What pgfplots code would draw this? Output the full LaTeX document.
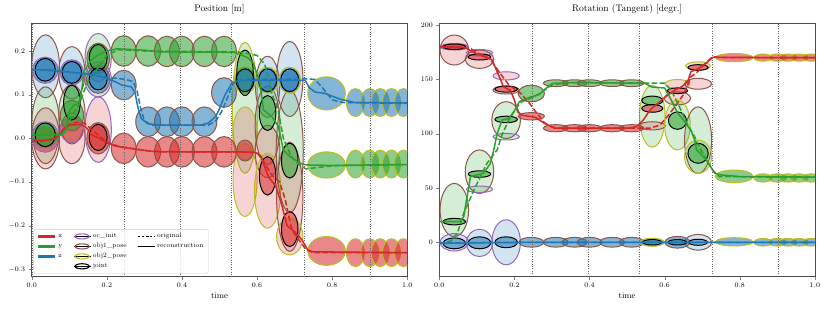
\documentclass[border=0pt]{standalone}
\usepackage{pgfplots}
\usepackage{pgfplotstable}
\pgfplotsset{compat=1.18}
\definecolor{fc1}{HTML}{D62728}
\definecolor{fc2}{HTML}{2CA02C}
\definecolor{fc3}{HTML}{1F77B4}
\definecolor{ec1}{HTML}{9467BD}
\definecolor{ec2}{HTML}{8C564B}
\definecolor{ec3}{HTML}{BCBD22}
\definecolor{ec4}{HTML}{000000}

\pgfdeclareplotmark{ell}{%
  \pgfplotspointaxisdirectionxy{\ellrx}{0}\pgfgetlastxy{\ellRX}{\ellTmp}%
  \pgfplotspointaxisdirectionxy{0}{\ellry}\pgfgetlastxy{\ellTmp}{\ellRY}%
  \pgfmathtruncatemacro\ellci{round(\ellc)}%
  \pgfmathtruncatemacro\ellei{round(\elle)}%
  \edef\ellFC{fc\ellci}\edef\ellEC{ec\ellei}%
  \pgfsetfillcolor{\ellFC}\pgfsetstrokecolor{\ellEC}%
  \pgfsetfillopacity{\ella}\pgfsetstrokeopacity{1}%
  \pgfsetlinewidth{1pt}%
  \pgfpathellipse{\pgfpointorigin}{\pgfqpoint{\ellRX}{0pt}}{\pgfqpoint{0pt}{\ellRY}}%
  \pgfusepath{fill,stroke}%
}

\pgfplotsset{
  ellplot/.style={scatter, only marks, mark=ell, forget plot,
    visualization depends on={\thisrow{rx}\as\ellrx},
    visualization depends on={\thisrow{ry}\as\ellry},
    visualization depends on={\thisrow{c}\as\ellc},
    visualization depends on={\thisrow{e}\as\elle},
    visualization depends on={\thisrow{a}\as\ella},
    scatter/@pre marker code/.code={\pgfscope},
    scatter/@post marker code/.code={\endpgfscope}},
  common/.style={scale only axis, width=375.6pt, height=253.4pt,
    xmin=0, xmax=1, xtick={0,0.2,0.4,0.6,0.8,1},
    xticklabel style={/pgf/number format/.cd, fixed, fixed zerofill, precision=1},
    tick label style={font=\fontsize{7}{8}\selectfont},
    tick align=outside, tick pos=left, major tick length=3pt,
    axis line style={black!70, line width=0.8pt},
    xlabel={time}, xlabel style={font=\fontsize{8.5}{10}\selectfont, yshift=2pt},
    title style={font=\fontsize{9.5}{11}\selectfont},
    clip marker paths=true},
  rec/.style={line width=1.5pt, forget plot},
  org/.style={line width=1.5pt, dash pattern=on 5.5pt off 2.5pt, forget plot},
  vl/.style={black!60, line width=0.8pt, dash pattern=on 0.8pt off 1.6pt, forget plot},
  ellleg/.style={legend image code/.code={%
    \path (0cm,0cm) -- (0.6cm,0cm);
    \draw[#1, line width=1.1pt] (0.3cm,0cm) ellipse [x radius=0.25cm, y radius=0.09cm];}},
}

% left panel ellipses: time, value, x radius, y radius, colour (1 x,2 y,3 z), edge (1 oc_init,2 obj1,3 obj2,4 joint), alpha
\pgfplotstableread{
t v rx ry c e a
0.037 0.165 0.037 0.072 3 2 0.2
0.037 0.03 0.037 0.088 2 2 0.2
0.037 0.0 0.037 0.07 1 2 0.2
0.107 0.15 0.035 0.06 3 2 0.2
0.107 0.055 0.035 0.068 2 2 0.2
0.107 0.0 0.035 0.058 1 2 0.2
0.177 0.185 0.035 0.055 2 1 0.2
0.177 0.135 0.035 0.04 3 1 0.2
0.177 0.02 0.035 0.075 1 1 0.2
0.568 0.07 0.034 0.15 2 3 0.2
0.568 0.011 0.033 0.061 1 3 0.2
0.568 -0.095 0.032 0.084 1 3 0.2
0.628 0.118 0.032 0.07 3 2 0.2
0.628 0.03 0.033 0.09 2 2 0.2
0.628 -0.03 0.033 0.06 1 2 0.2
0.628 -0.12 0.035 0.086 1 3 0.2
0.687 0.136 0.035 0.086 3 2 0.2
0.687 -0.03 0.036 0.14 2 2 0.2
0.687 -0.134 0.035 0.125 1 2 0.2
0.687 -0.225 0.035 0.042 1 3 0.2
0.036 -0.002 0.034 0.03 1 1 0.55
0.036 0.156 0.034 0.03 3 1 0.55
0.036 0.008 0.034 0.03 2 1 0.55
0.107 0.02 0.031 0.03 1 1 0.55
0.107 0.052 0.031 0.035 2 2 0.55
0.107 0.151 0.031 0.029 3 1 0.55
0.177 0.183 0.03 0.035 2 2 0.55
0.177 0.135 0.031 0.032 3 2 0.55
0.177 0.0 0.03 0.036 1 2 0.55
0.245 0.2 0.033 0.035 2 2 0.55
0.31 0.2 0.033 0.035 2 2 0.55
0.36 0.199 0.033 0.035 2 2 0.55
0.40 0.199 0.033 0.035 2 2 0.55
0.46 0.199 0.033 0.035 2 2 0.55
0.512 0.199 0.033 0.035 2 2 0.55
0.245 0.122 0.033 0.034 3 2 0.55
0.31 0.038 0.033 0.034 3 2 0.55
0.36 0.038 0.033 0.034 3 2 0.55
0.40 0.038 0.033 0.034 3 2 0.55
0.46 0.038 0.033 0.034 3 2 0.55
0.512 0.105 0.033 0.034 3 2 0.55
0.245 -0.023 0.033 0.035 1 2 0.55
0.31 -0.031 0.033 0.035 1 2 0.55
0.36 -0.031 0.033 0.035 1 2 0.55
0.40 -0.031 0.033 0.035 1 2 0.55
0.46 -0.031 0.033 0.035 1 2 0.55
0.512 -0.031 0.033 0.035 1 2 0.55
0.568 -0.028 0.022 0.024 1 2 0.55
0.568 0.133 0.029 0.03 3 3 0.55
0.628 0.133 0.029 0.03 3 3 0.55
0.687 0.133 0.029 0.03 3 3 0.55
0.785 0.103 0.05 0.038 3 3 0.55
0.862 0.082 0.024 0.032 3 3 0.55
0.9 0.082 0.024 0.032 3 3 0.55
0.928 0.082 0.024 0.032 3 3 0.55
0.958 0.082 0.024 0.032 3 3 0.55
0.99 0.082 0.024 0.032 3 3 0.55
0.785 -0.061 0.05 0.03 2 3 0.55
0.862 -0.059 0.024 0.032 2 3 0.55
0.9 -0.059 0.024 0.032 2 3 0.55
0.928 -0.059 0.024 0.032 2 3 0.55
0.958 -0.059 0.024 0.032 2 3 0.55
0.99 -0.059 0.024 0.032 2 3 0.55
0.785 -0.258 0.05 0.033 1 3 0.55
0.862 -0.262 0.024 0.032 1 3 0.55
0.9 -0.262 0.024 0.032 1 3 0.55
0.928 -0.262 0.024 0.032 1 3 0.55
0.958 -0.262 0.024 0.032 1 3 0.55
0.99 -0.262 0.024 0.032 1 3 0.55
0.036 0.157 0.027 0.026 3 4 0.55
0.036 0.008 0.027 0.027 2 4 0.55
0.107 0.151 0.026 0.025 3 4 0.55
0.107 0.082 0.022 0.04 2 4 0.55
0.177 0.185 0.024 0.03 2 4 0.55
0.177 0.136 0.024 0.025 3 4 0.55
0.177 0.002 0.024 0.03 1 4 0.55
0.568 0.15 0.022 0.052 2 4 0.55
0.568 0.133 0.024 0.026 3 4 0.55
0.628 0.058 0.022 0.04 2 4 0.55
0.628 -0.086 0.022 0.044 1 4 0.55
0.628 0.133 0.024 0.026 3 4 0.55
0.687 -0.051 0.022 0.04 2 4 0.55
0.687 -0.208 0.022 0.04 1 4 0.55
0.687 0.133 0.024 0.026 3 4 0.55
}\ellL

\pgfplotstableread{
t v rx ry c e a
0.04 177 0.038 13.8 1 2 0.2
0.04 29.7 0.038 24.5 2 2 0.2
0.04 0 0.038 8 3 1 0.2
0.107 168.5 0.038 8.4 1 2 0.2
0.107 174.5 0.035 3 1 1 0.2
0.107 65 0.038 20 2 2 0.2
0.107 48.8 0.035 3 2 1 0.2
0.107 -0.6 0.035 12.6 3 1 0.2
0.178 153.2 0.035 3.8 1 1 0.2
0.178 140.2 0.035 3.7 1 2 0.2
0.178 112.5 0.038 16.9 2 2 0.2
0.178 97.2 0.035 3 2 1 0.2
0.178 0 0.038 20.7 3 1 0.2
0.567 116 0.034 28.4 2 3 0.2
0.567 107.2 0.035 3.8 1 2 0.2
0.634 145.8 0.033 4.1 1 3 0.2
0.634 132.5 0.035 6.1 1 2 0.2
0.634 108 0.034 23 2 3 0.2
0.689 94 0.036 30.7 2 2 0.2
0.689 78.8 0.036 15.3 2 3 0.2
0.689 162.4 0.033 3.8 1 3 0.2
0.689 145.9 0.036 5 1 2 0.2
0.689 0 0.036 7.2 3 2 0.2
0.04 180 0.038 3 1 1 0.55
0.245 137 0.035 7.7 2 2 0.55
0.31 146.5 0.033 3.1 2 2 0.55
0.36 146.5 0.033 3.1 2 2 0.55
0.40 146.5 0.033 3.1 2 2 0.55
0.46 146.5 0.033 3.1 2 2 0.55
0.512 146.5 0.033 3.1 2 2 0.55
0.245 116 0.035 3.4 1 2 0.55
0.31 105 0.033 3.3 1 2 0.55
0.36 105 0.033 3.3 1 2 0.55
0.40 105 0.033 3.3 1 2 0.55
0.46 105 0.033 3.3 1 2 0.55
0.512 105 0.033 3.3 1 2 0.55
0.245 0 0.033 4.5 3 2 0.55
0.31 0 0.033 4.5 3 2 0.55
0.36 0 0.033 4.5 3 2 0.55
0.40 0 0.033 4.5 3 2 0.55
0.46 0 0.033 4.5 3 2 0.55
0.512 0 0.033 4.5 3 2 0.55
0.567 0 0.032 3.7 3 3 0.55
0.634 0 0.033 5.4 3 2 0.55
0.785 170 0.05 3.8 1 3 0.55
0.862 170 0.024 3.3 1 3 0.55
0.9 170 0.024 3.3 1 3 0.55
0.928 170 0.024 3.3 1 3 0.55
0.958 170 0.024 3.3 1 3 0.55
0.99 170 0.024 3.3 1 3 0.55
0.785 60.7 0.05 5.8 2 3 0.55
0.862 59.2 0.024 3.8 2 3 0.55
0.9 59.2 0.024 3.8 2 3 0.55
0.928 59.2 0.024 3.8 2 3 0.55
0.958 59.2 0.024 3.8 2 3 0.55
0.99 59.2 0.024 3.8 2 3 0.55
0.785 0.4 0.05 3.8 3 3 0.55
0.862 0 0.024 3.5 3 3 0.55
0.9 0 0.024 3.5 3 3 0.55
0.928 0 0.024 3.5 3 3 0.55
0.958 0 0.024 3.5 3 3 0.55
0.99 0 0.024 3.5 3 3 0.55
0.04 180 0.03 2.5 1 4 0.55
0.04 19 0.03 3 2 4 0.55
0.04 -1 0.03 5 3 4 0.55
0.107 170.6 0.03 2.8 1 4 0.55
0.107 62.8 0.03 3 2 4 0.55
0.107 -0.5 0.03 5.5 3 4 0.55
0.178 141 0.03 2.8 1 4 0.55
0.178 113.1 0.03 3 2 4 0.55
0.178 0 0.03 5 3 4 0.55
0.567 130.5 0.028 4.1 2 4 0.55
0.567 123.2 0.028 3.5 1 4 0.55
0.567 0 0.025 2.5 3 4 0.55
0.634 139.5 0.027 2.6 1 4 0.55
0.634 112 0.024 8 2 4 0.55
0.634 0 0.025 2.5 3 4 0.55
0.689 81.9 0.027 9.2 2 4 0.55
0.689 160.9 0.027 2.6 1 4 0.55
0.689 0 0.025 2.8 3 4 0.55
}\ellR

\begin{document}
\begin{tikzpicture}
\path[use as bounding box] (0,0) rectangle (830pt,311pt);

\begin{axis}[common, at={(31.7pt,34.3pt)}, anchor=south west,
  title={Position [m]},
  ymin=-0.317, ymax=0.2635,
  ytick={-0.3,-0.2,-0.1,0,0.1,0.2},
  yticklabel style={/pgf/number format/.cd, fixed, fixed zerofill, precision=1},
  legend columns=3, legend cell align=left,
  legend style={at={(0.004,0.013)}, anchor=south west,
    font=\fontsize{6.5}{7}\selectfont, draw=black!20, fill=white,
    fill opacity=0.8, text opacity=1, rounded corners=1.5pt,
    nodes={inner ysep=2pt},
    /tikz/every even column/.append style={column sep=9pt}},
]
\addplot[ellplot] table[x=t,y=v] {\ellL};

\addplot[org, fc1] coordinates {(0,-0.008) (0.03,-0.006) (0.06,0.0) (0.08,0.015) (0.095,0.03) (0.12,0.037) (0.14,0.035) (0.16,0.02) (0.18,0.005) (0.2,-0.008) (0.23,-0.018) (0.26,-0.022) (0.3,-0.028) (0.35,-0.031) (0.55,-0.031) (0.6,-0.033) (0.615,-0.05) (0.64,-0.085) (0.66,-0.1) (0.675,-0.14) (0.69,-0.2) (0.7,-0.22) (0.718,-0.24) (0.73,-0.255) (0.75,-0.262) (1,-0.262)};
\addplot[org, fc2] coordinates {(0,-0.004) (0.07,-0.002) (0.093,0.027) (0.113,0.06) (0.125,0.075) (0.138,0.105) (0.15,0.13) (0.175,0.16) (0.2,0.19) (0.23,0.203) (0.3,0.2) (0.55,0.198) (0.6,0.19) (0.62,0.17) (0.63,0.14) (0.64,0.1) (0.655,0.07) (0.67,0.0) (0.69,-0.04) (0.71,-0.06) (0.73,-0.07) (0.75,-0.068) (0.8,-0.063) (1,-0.06)};
\addplot[org, fc3] coordinates {(0,0.157) (0.1,0.152) (0.2,0.14) (0.25,0.135) (0.27,0.13) (0.28,0.11) (0.29,0.07) (0.3,0.04) (0.32,0.03) (0.47,0.03) (0.49,0.04) (0.505,0.06) (0.52,0.09) (0.535,0.125) (0.56,0.135) (0.73,0.136) (0.754,0.135) (0.775,0.115) (0.8,0.088) (0.83,0.082) (1,0.08)};
\addplot[rec, fc1] coordinates {(0,-0.004) (0.03,-0.005) (0.06,-0.002) (0.075,0.008) (0.085,0.022) (0.1,0.03) (0.13,0.032) (0.145,0.025) (0.16,0.008) (0.18,0.0) (0.2,-0.01) (0.22,-0.017) (0.25,-0.022) (0.28,-0.025) (0.32,-0.03) (0.4,-0.031) (0.55,-0.031) (0.595,-0.032) (0.61,-0.04) (0.63,-0.088) (0.65,-0.11) (0.665,-0.15) (0.68,-0.2) (0.7,-0.214) (0.72,-0.233) (0.735,-0.256) (0.75,-0.26) (1,-0.262)};
\addplot[rec, fc2] coordinates {(0,0.008) (0.08,0.008) (0.09,0.015) (0.1,0.06) (0.11,0.075) (0.125,0.08) (0.133,0.11) (0.14,0.155) (0.157,0.178) (0.175,0.19) (0.2,0.2) (0.228,0.205) (0.3,0.202) (0.34,0.198) (0.54,0.197) (0.575,0.185) (0.59,0.172) (0.608,0.126) (0.617,0.065) (0.639,0.05) (0.657,0.027) (0.67,-0.027) (0.688,-0.042) (0.714,-0.057) (0.732,-0.061) (0.8,-0.062) (1,-0.06)};
\addplot[rec, fc3] coordinates {(0,0.157) (0.05,0.157) (0.1,0.152) (0.167,0.145) (0.2,0.137) (0.222,0.13) (0.24,0.122) (0.265,0.118) (0.275,0.105) (0.283,0.07) (0.292,0.045) (0.31,0.033) (0.35,0.03) (0.45,0.03) (0.47,0.035) (0.49,0.05) (0.5,0.068) (0.515,0.1) (0.532,0.125) (0.55,0.132) (0.6,0.133) (0.728,0.133) (0.74,0.115) (0.755,0.106) (0.78,0.103) (0.82,0.09) (0.86,0.082) (1,0.081)};

\addplot[vl] coordinates {(0.001,-1) (0.001,1)};
\addplot[vl] coordinates {(0.247,-1) (0.247,1)};
\addplot[vl] coordinates {(0.397,-1) (0.397,1)};
\addplot[vl] coordinates {(0.532,-1) (0.532,1)};
\addplot[vl] coordinates {(0.727,-1) (0.727,1)};
\addplot[vl] coordinates {(0.902,-1) (0.902,1)};

\addlegendimage{fc1, line width=3pt}\addlegendentry{x}
\addlegendimage{ellleg=ec1}\addlegendentry{oc\_init}
\addlegendimage{black, line width=0.6pt, dash pattern=on 2.5pt off 1.5pt}\addlegendentry{original}
\addlegendimage{fc2, line width=3pt}\addlegendentry{y}
\addlegendimage{ellleg=ec2}\addlegendentry{obj1\_pose}
\addlegendimage{black, line width=0.6pt}\addlegendentry{reconstruction}
\addlegendimage{fc3, line width=3pt}\addlegendentry{z}
\addlegendimage{ellleg=ec3}\addlegendentry{obj2\_pose}
\addlegendimage{empty legend}\addlegendentry{}
\addlegendimage{empty legend}\addlegendentry{}
\addlegendimage{ellleg=ec4}\addlegendentry{joint}
\addlegendimage{empty legend}\addlegendentry{}
\end{axis}

\begin{axis}[common, at={(439.3pt,34.3pt)}, anchor=south west,
  title={Rotation (Tangent) [degr.]},
  ymin=-31.7, ymax=201.6,
  ytick={0,50,100,150,200},
]
\addplot[ellplot] table[x=t,y=v] {\ellR};

\addplot[org, fc1] coordinates {(0,180) (0.06,179.5) (0.085,178) (0.11,173) (0.135,169) (0.162,155.5) (0.185,145) (0.217,137) (0.24,128) (0.257,120) (0.28,110) (0.3,106) (0.32,105) (0.561,105) (0.588,108) (0.614,118.7) (0.634,128) (0.652,137) (0.67,152.4) (0.688,157) (0.706,164) (0.728,171) (0.75,170) (1,170)};
\addplot[org, fc2] coordinates {(0,-1) (0.03,1) (0.048,8.3) (0.065,26.7) (0.092,48) (0.127,72.7) (0.154,85) (0.167,99) (0.185,112.5) (0.207,124.8) (0.22,129.4) (0.25,133.5) (0.28,140) (0.3,145) (0.35,147) (0.6,146.5) (0.617,140) (0.635,128) (0.66,109) (0.68,97) (0.686,92) (0.706,79) (0.728,66.5) (0.745,60.4) (1,60)};
\addplot[org, fc3] coordinates {(0,-0.5) (0.2,0) (1,0)};
\addplot[rec, fc1] coordinates {(0,180) (0.05,180) (0.07,179) (0.09,175) (0.118,171) (0.14,168) (0.158,154) (0.171,143) (0.189,140) (0.2,131) (0.209,120) (0.22,117) (0.256,115) (0.28,109.5) (0.307,105) (0.5,105) (0.525,106.4) (0.543,112.5) (0.561,121.7) (0.597,132.5) (0.626,140) (0.645,143) (0.661,147.8) (0.67,157) (0.69,160) (0.71,164.7) (0.728,170.2) (1,170)};
\addplot[rec, fc2] coordinates {(0,19) (0.055,19) (0.065,23.6) (0.083,60.4) (0.118,63.5) (0.136,72.7) (0.145,85) (0.154,100) (0.167,112.5) (0.185,114) (0.2,121) (0.213,129.4) (0.24,133.4) (0.266,136) (0.284,141.7) (0.301,146.3) (0.35,147) (0.547,146.5) (0.565,143) (0.6,142) (0.613,134) (0.635,118.7) (0.65,112.5) (0.67,103) (0.68,94) (0.685,85) (0.694,82) (0.711,75.7) (0.733,63.5) (0.75,62) (0.8,60.5) (1,60)};
\addplot[rec, fc3] coordinates {(0,-1) (0.1,-0.5) (0.3,0) (1,0)};

\addplot[vl] coordinates {(0.001,-100) (0.001,300)};
\addplot[vl] coordinates {(0.247,-100) (0.247,300)};
\addplot[vl] coordinates {(0.397,-100) (0.397,300)};
\addplot[vl] coordinates {(0.532,-100) (0.532,300)};
\addplot[vl] coordinates {(0.727,-100) (0.727,300)};
\addplot[vl] coordinates {(0.902,-100) (0.902,300)};
\end{axis}
\end{tikzpicture}
\end{document}
